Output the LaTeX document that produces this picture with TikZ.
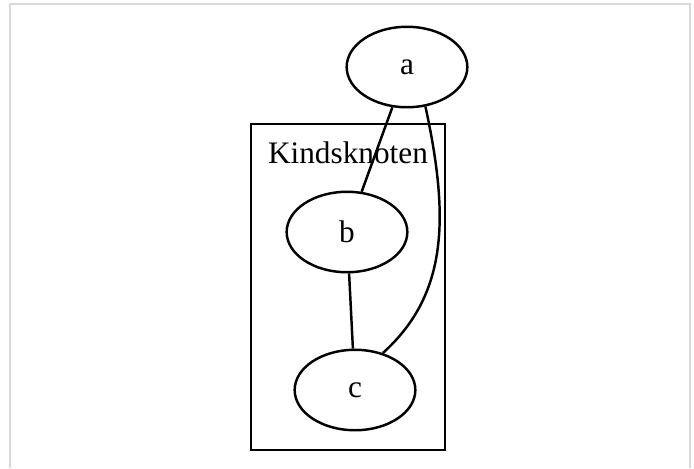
\documentclass[tikz,border=0pt]{standalone}
\usepackage{fontspec}
\setmainfont{Liberation Serif}
\usetikzlibrary{shapes.geometric}

\begin{document}
\begin{tikzpicture}[x=0.4475pt, y=-0.4475pt, font=\fontsize{14}{16}\selectfont]
% Define styles for nodes and edges
\tikzstyle{vertex} = [ellipse, draw, line width=1.1pt, minimum width=54pt, minimum height=36pt, inner sep=0pt]
\tikzstyle{cluster} = [rectangle, draw, line width=1.1pt, minimum width=86.8pt, minimum height=145.9pt, inner sep=0pt]
\tikzstyle{edge} = [line width=1.1pt]

% Frame
\useasboundingbox (0,0) rectangle (694,468);
\draw[black!15, line width=1pt] (10,468) -- (10,4) -- (690,4) -- (690,468);

% Nodes
\node[cluster] (cluster) at (348,287) {};
\node (clusterlabel) at (348,153) {Kindsknoten};
\node[vertex, fill=white] (a) at (407,67) {a};
\node[vertex] (b) at (347,232) {b};
\node[vertex] (c) at (355,390) {c};

% Edges
\draw[edge] (a) -- (b);
\draw[edge] (b) -- (c);
\draw[edge] (a.-65) .. controls (450,220) and (447,295) .. (c.53);
\end{tikzpicture}
\end{document}
